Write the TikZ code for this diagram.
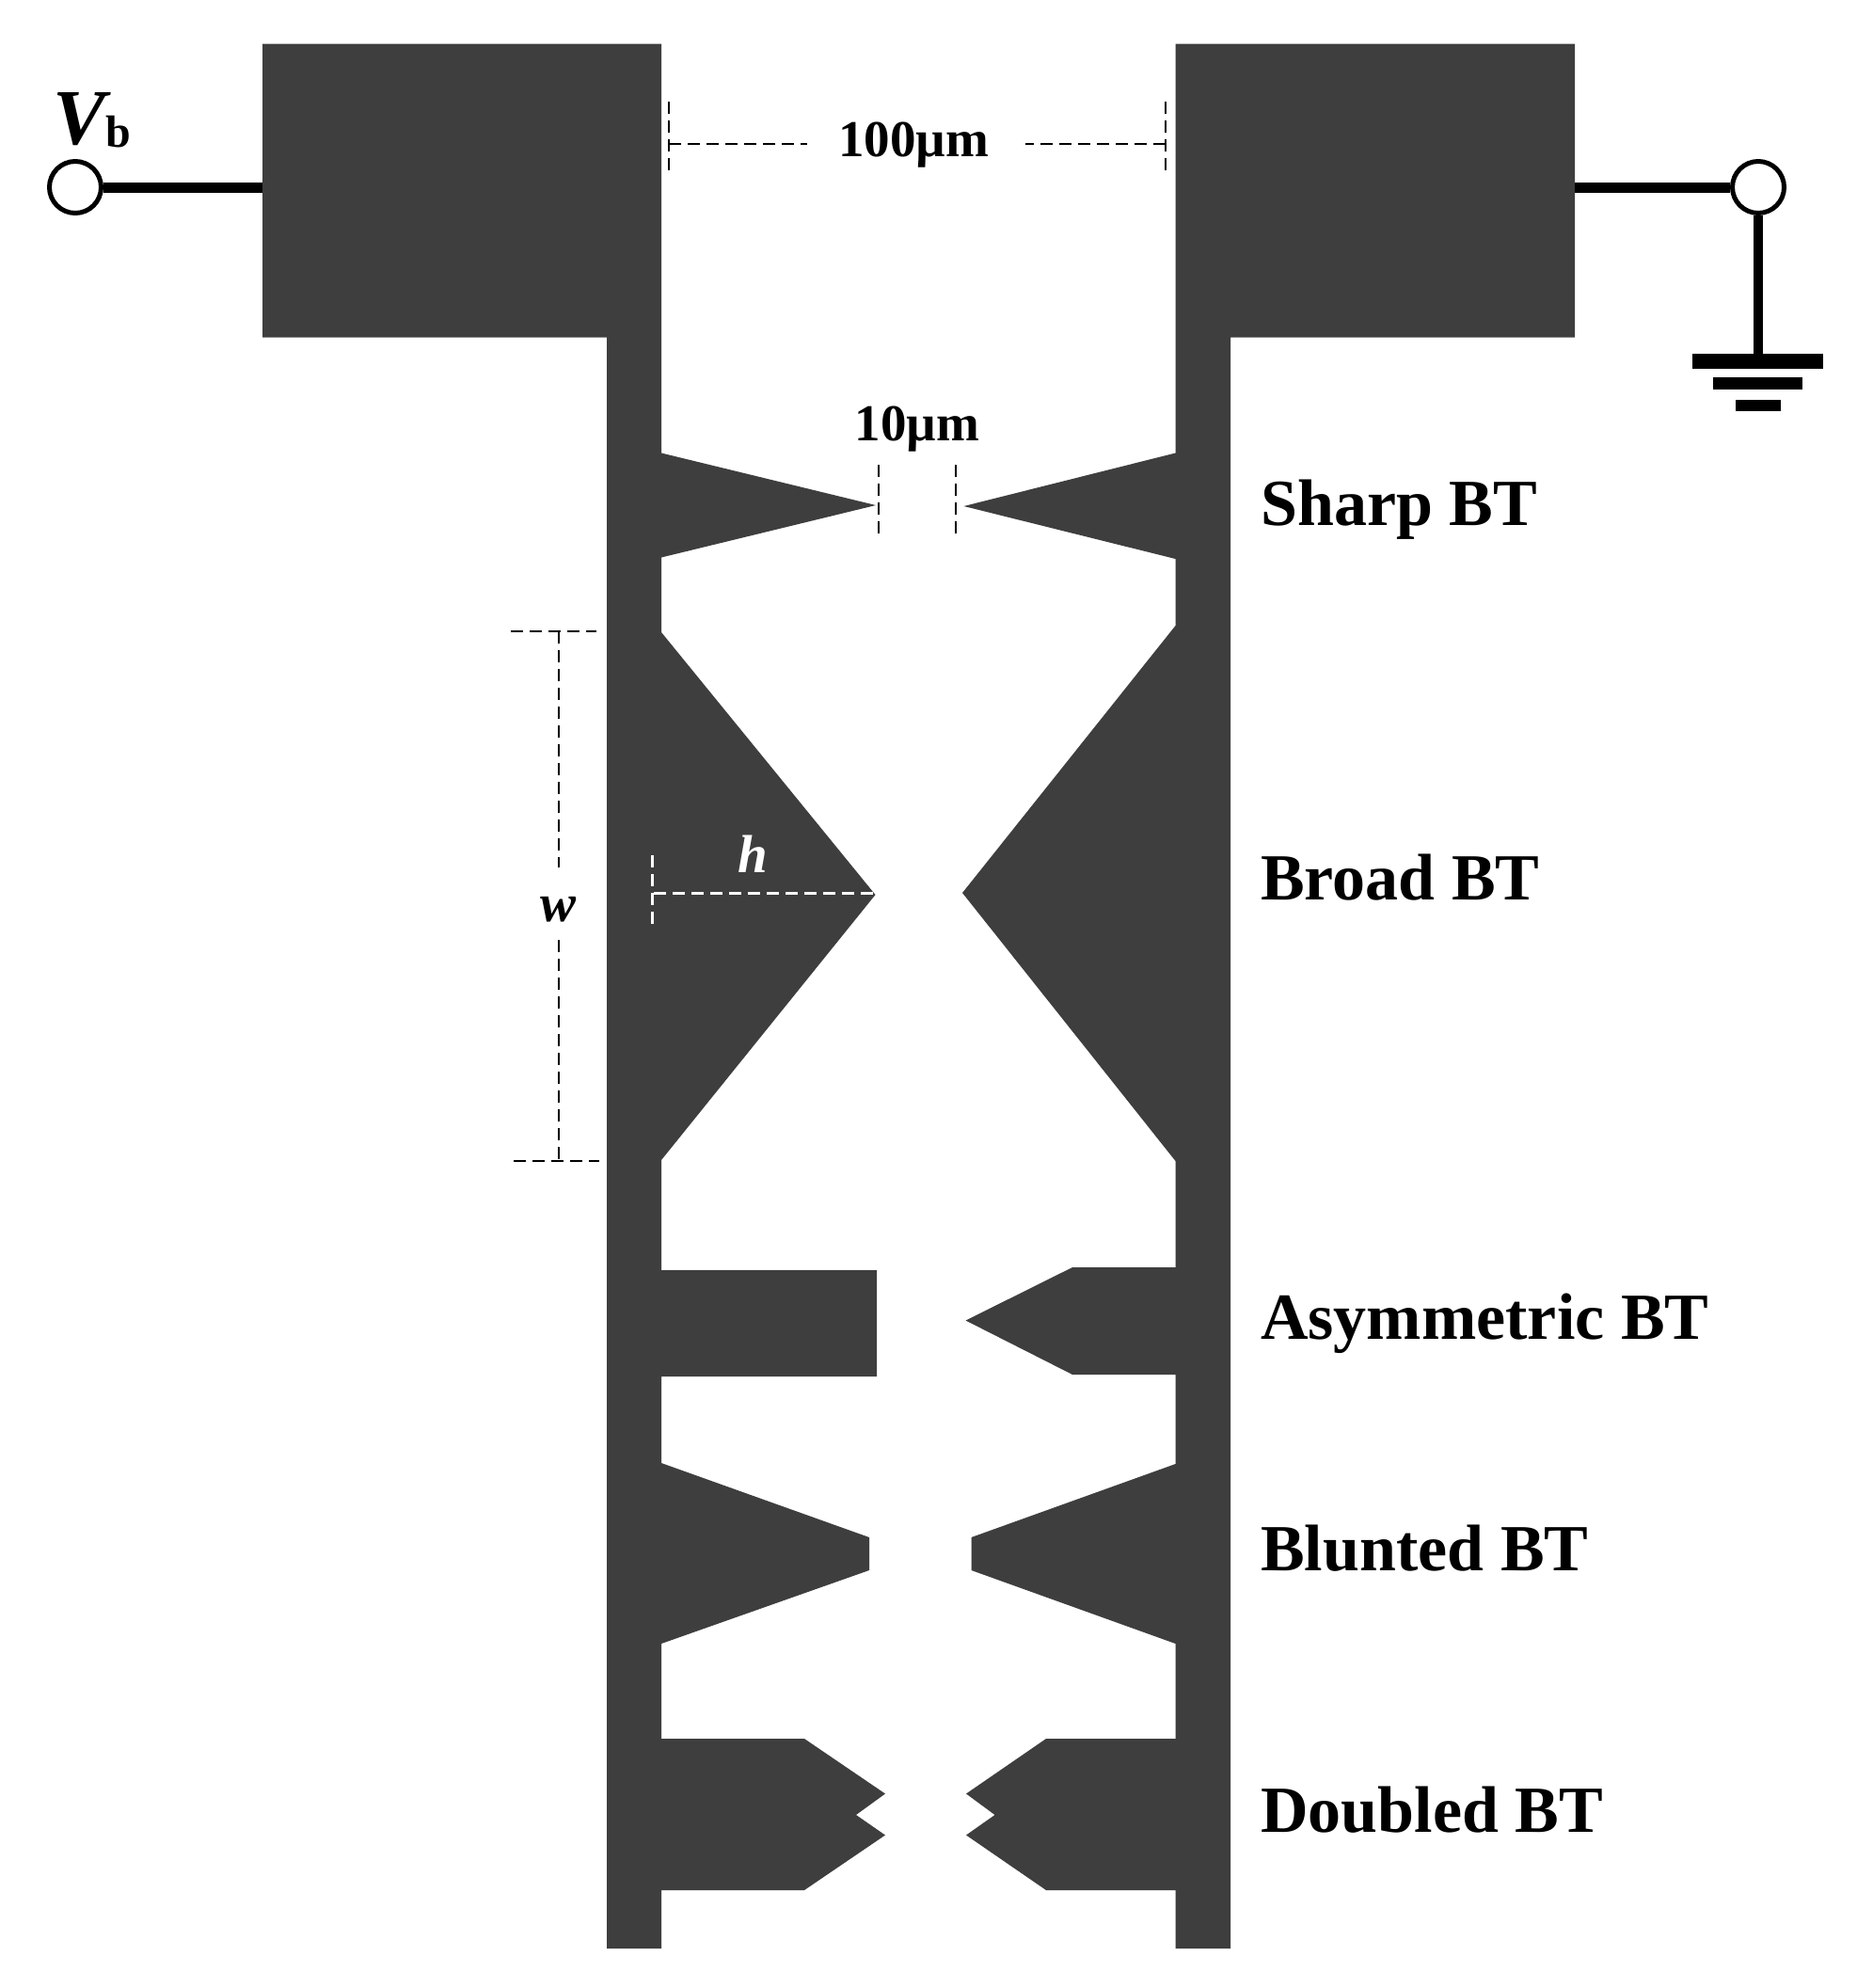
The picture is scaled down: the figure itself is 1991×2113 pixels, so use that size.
\documentclass[tikz,border=0pt]{standalone}
\usepackage{fontspec}
\setmainfont{Liberation Serif}
\definecolor{metal}{HTML}{3E3E3E}
\tikzset{
  x=1pt,y=-1pt,
  electrode/.style={fill=metal,draw=none},
  lead/.style={draw=black,line width=11pt},
  terminal/.style={circle,draw=black,fill=white,line width=5pt,minimum size=55pt,inner sep=0pt},
  gndbar/.style={fill=black,draw=none},
  dim/.style={draw=black,line width=2.6pt,dash pattern=on 13pt off 7pt},
  dimw/.style={draw=white,line width=2.6pt,dash pattern=on 13pt off 7pt},
  lbl/.style={inner sep=0pt,anchor=base west,font=\fontsize{70}{80}\selectfont\bfseries},
  dimlbl/.style={inner sep=0pt,anchor=base,font=\fontsize{55}{62}\selectfont\bfseries},
  symlbl/.style={inner sep=0pt,anchor=base,font=\fontsize{57}{62}\selectfont\bfseries\itshape},
}
\begin{document}
\begin{tikzpicture}
\useasboundingbox (0,0) rectangle (1991,2113);
% left electrode
\fill[electrode] (279,46.5) -- (703,46.5) -- (703,481.5) -- (931,537) -- (703,592.5)
 -- (703,672) -- (930.5,951) -- (703,1233)
 -- (703,1350) -- (932,1350) -- (932,1463) -- (703,1463)
 -- (703,1555) -- (924,1634) -- (924,1669) -- (703,1747)
 -- (703,1848) -- (855,1848) -- (941,1906.5) -- (910,1929) -- (941,1950.5) -- (855,2009) -- (703,2009)
 -- (703,2071) -- (645,2071) -- (645,358.5) -- (279,358.5) -- cycle;
% right electrode
\fill[electrode] (1674,46.5) -- (1249.5,46.5) -- (1249.5,481.5) -- (1024.5,538) -- (1249.5,594)
 -- (1249.5,665) -- (1023,949) -- (1249.5,1234)
 -- (1249.5,1347) -- (1140,1347) -- (1026.5,1403.5) -- (1140,1461) -- (1249.5,1461)
 -- (1249.5,1556) -- (1032.5,1634) -- (1032.5,1669) -- (1249.5,1747)
 -- (1249.5,1848) -- (1112,1848) -- (1027,1906.5) -- (1057.5,1929) -- (1027,1950.5) -- (1112,2009) -- (1249.5,2009)
 -- (1249.5,2071) -- (1308,2071) -- (1308,358.5) -- (1674,358.5) -- cycle;
% terminals and leads
\coordinate (padL) at (279,198);
\coordinate (padR) at (1674,198);
\coordinate (gnd) at (1870,380);
\node[terminal] (vb) at (80,199) {};
\node[terminal] (ref) at (1869,199) {};
\draw[lead] (vb.east) -- (vb.east -| padL);
\draw[lead] (ref.west) -- (ref.west -| padR);
\draw[draw=black,line width=10pt] (ref) -- (ref |- gnd);
\fill[gndbar] (1799,376) rectangle (1938,392);
\fill[gndbar] (1821,401) rectangle (1916,414);
\fill[gndbar] (1845,424.5) rectangle (1893,437);
% 100 um dimension
\coordinate (a1) at (711,108); \coordinate (a2) at (711,184);
\coordinate (a3) at (1239,108); \coordinate (a4) at (1239,184);
\coordinate (a5) at (711,153); \coordinate (a6) at (858,153);
\coordinate (a7) at (1090,153); \coordinate (a8) at (1239,153);
\draw[dim] (a1) -- (a2);
\draw[dim] (a3) -- (a4);
\draw[dim] (a5) -- (a6);
\draw[dim] (a8) -- (a7);
\node[dimlbl] (t100) at (971,166) {100µm};
% 10 um gap
\coordinate (b1) at (934,494); \coordinate (b2) at (934,569);
\coordinate (b3) at (1016,494); \coordinate (b4) at (1016,569);
\draw[dim] (b1) -- (b2);
\draw[dim] (b3) -- (b4);
\node[dimlbl] (t10) at (975,468) {10µm};
% w dimension
\coordinate (c1) at (543,671); \coordinate (c2) at (634,671);
\coordinate (c3) at (546,1234); \coordinate (c4) at (637,1234);
\coordinate (c5) at (594,671); \coordinate (c6) at (594,922);
\coordinate (c7) at (594,999); \coordinate (c8) at (594,1234);
\draw[dim] (c1) -- (c2);
\draw[dim] (c3) -- (c4);
\draw[dim] (c5) -- (c6);
\draw[dim] (c7) -- (c8);
\node[symlbl] (tw) at (594,979) {w};
% h dimension
\coordinate (d1) at (693.5,909); \coordinate (d2) at (693.5,987);
\coordinate (d3) at (695,949.5); \coordinate (d4) at (928,949.5);
\draw[dimw] (d1) -- (d2);
\draw[dimw] (d3) -- (d4);
\node[symlbl,text=white] (th) at (800,927) {h};
% Vb label
\node[inner sep=0pt,anchor=base west] (tvb) at (56,153)
  {\fontsize{84}{90}\selectfont\bfseries\itshape V\fontsize{48}{50}\selectfont\upshape\raisebox{-3pt}{b}};
% type labels
\node[lbl] (sharp) at (1340,558) {Sharp BT};
\node[lbl] (broad) at (1340,956) {Broad BT};
\node[lbl] (asym) at (1340,1423) {Asymmetric BT};
\node[lbl] (blunt) at (1340,1669) {Blunted BT};
\node[lbl] (doub) at (1340,1947) {Doubled BT};
\end{tikzpicture}
\end{document}
